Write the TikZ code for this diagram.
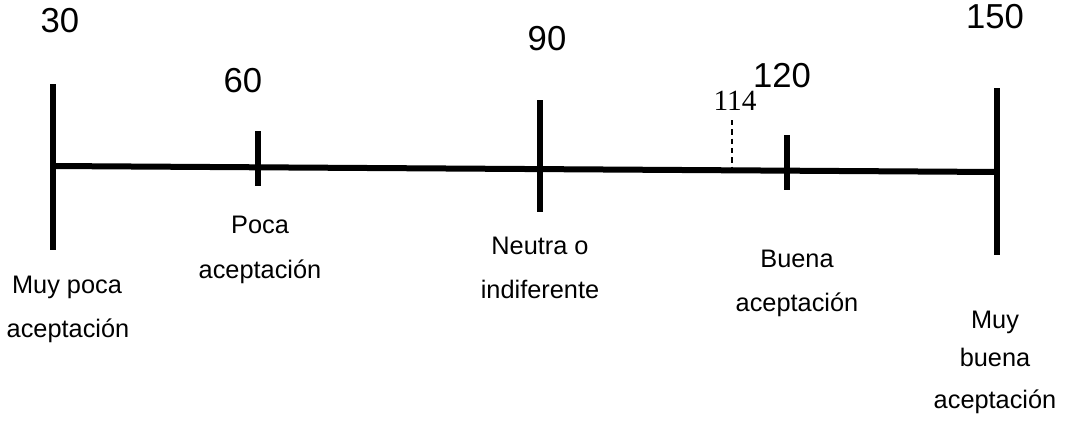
\documentclass[tikz,border=0pt]{standalone}
\usepackage{fontspec}
\setmainfont{Liberation Sans}
\newfontfamily\seriffont{Liberation Serif}
\begin{document}
\begin{tikzpicture}[x=0.75pt,y=-0.75pt,
  axisline/.style={line width=4.5pt},
  tickline/.style={line width=4.5pt},
  num/.style={anchor=base,inner sep=0pt,font=\fontsize{26}{30}\selectfont},
  lbl/.style={anchor=base,inner sep=0pt,font=\fontsize{19}{22}\selectfont},
  small/.style={anchor=base,inner sep=0pt,font=\seriffont\fontsize{22}{26}\selectfont}]
\useasboundingbox (0,0) rectangle (1073,421);
% axis ends
\coordinate (a0) at (53,166);
\coordinate (a1) at (997,172);
\draw[axisline] (a0) -- (a1);
% ticks
\coordinate (t30a) at (53,84);  \coordinate (t30b) at (53,250);
\coordinate (t60a) at (258,131); \coordinate (t60b) at (258,186);
\coordinate (t90a) at (540,100); \coordinate (t90b) at (540,212);
\coordinate (t120a) at (787,135); \coordinate (t120b) at (787,190);
\coordinate (t150a) at (997,88); \coordinate (t150b) at (997,255);
\coordinate (d114a) at (732,120); \coordinate (d114b) at (732,168);
\draw[tickline] (t30a) -- (t30b);
\draw[tickline] (t60a) -- (t60b);
\draw[tickline] (t90a) -- (t90b);
\draw[tickline] (t120a) -- (t120b);
\draw[tickline] (t150a) -- (t150b);
\draw[line width=1.2pt,dash pattern=on 4pt off 3pt] (d114a) -- (d114b);
% numbers
\node[num] (n30) at (60,32) {30};
\node[num] (n60) at (243,92) {60};
\node[num] (n90) at (547,50) {90};
\node[num] (n120) at (782,87) {120};
\node[num] (n150) at (995,28) {150};
\node[small] (n114) at (735,110) {114};
% labels
\node[lbl] (l1a) at (67,293) {Muy poca};
\node[lbl] (l1b) at (68,337) {aceptación};
\node[lbl] (l2a) at (260,233) {Poca};
\node[lbl] (l2b) at (260,278) {aceptación};
\node[lbl] (l3a) at (540,254) {Neutra o};
\node[lbl] (l3b) at (540,298) {indiferente};
\node[lbl] (l4a) at (797,267) {Buena};
\node[lbl] (l4b) at (797,311) {aceptación};
\node[lbl] (l5a) at (995,328) {Muy};
\node[lbl] (l5b) at (995,366) {buena};
\node[lbl] (l5c) at (995,408) {aceptación};
\end{tikzpicture}
\end{document}
